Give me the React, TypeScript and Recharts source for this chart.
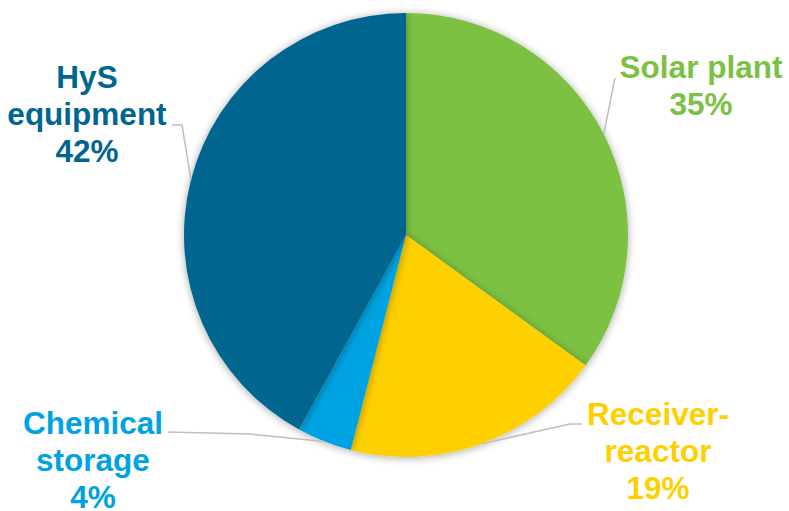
import { PieChart, Pie, Cell } from 'recharts';

const categories = ['Solar plant', 'Receiver-reactor', 'Chemical storage', 'HyS equipment'];
const shares = [35, 19, 4, 42];
// label text lines, one list per slice
const labelLines = [
  ['Solar plant', '35%'],
  ['Receiver-', 'reactor', '19%'],
  ['Chemical', 'storage', '4%'],
  ['HyS', 'equipment', '42%'],
];
const colors = ['#7BC143', '#FFD000', '#00A3E1', '#00668F'];

const data = categories.map((name, i) => ({ name, value: shares[i] }));

// layout of the outside labels (text centre x, first baseline y) and leader line elbows
const labelLayout = [
  { x: 701, y: 78, elbow: [[615, 78]] },
  { x: 658, y: 425, elbow: [[570, 424], [582, 424]] },
  { x: 93, y: 434, elbow: [[250, 434], [168, 432]] },
  { x: 87, y: 88, elbow: [[182, 125], [172, 125]] },
];

const RAD = Math.PI / 180;

const renderLabel = (props: any) => {
  const { cx, cy, outerRadius, midAngle, index } = props;
  const lay = labelLayout[index];
  const sx = cx + outerRadius * Math.cos(-midAngle * RAD);
  const sy = cy + outerRadius * Math.sin(-midAngle * RAD);
  const pts = [[sx, sy], ...lay.elbow].map((p) => p.join(',')).join(' ');
  return (
    <g key={`lbl-${index}`}>
      <polyline points={pts} fill="none" stroke="#BFBFBF" strokeWidth={1.5} />
      <text
        x={lay.x}
        y={lay.y}
        textAnchor="middle"
        fill={colors[index]}
        fontFamily="'Liberation Sans', Arial, sans-serif"
        fontWeight="bold"
        fontSize={31.5}
      >
        {labelLines[index].map((line, j) => (
          <tspan key={j} x={lay.x} dy={j === 0 ? 0 : 37}>
            {line}
          </tspan>
        ))}
      </text>
    </g>
  );
};

export default function App() {
  return (
    <div style={{ position: 'absolute', left: 0, top: 0, width: 789, height: 511, background: '#fff' }}>
      <PieChart width={789} height={511} margin={{ top: 0, right: 0, bottom: 0, left: 0 }}>
        <defs>
          <filter id="pieShadow" x="-10%" y="-10%" width="120%" height="120%">
            <feGaussianBlur in="SourceAlpha" stdDeviation="4" />
            <feOffset dx="0" dy="1" result="blur" />
            <feComponentTransfer>
              <feFuncA type="linear" slope="0.35" />
            </feComponentTransfer>
            <feMerge>
              <feMergeNode />
              <feMergeNode in="SourceGraphic" />
            </feMerge>
          </filter>
        </defs>
        <Pie
          data={data}
          dataKey="value"
          nameKey="name"
          cx={406}
          cy={235}
          outerRadius={222}
          startAngle={90}
          endAngle={-270}
          stroke="none"
          label={renderLabel}
          labelLine={false}
          isAnimationActive={false}
          style={{ filter: 'url(#pieShadow)' }}
        >
          {data.map((d, i) => (
            <Cell key={d.name} fill={colors[i]} />
          ))}
        </Pie>
      </PieChart>
    </div>
  );
}
